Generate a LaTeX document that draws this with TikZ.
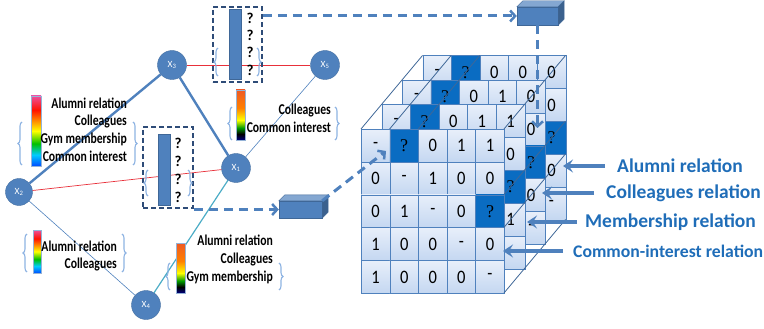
\documentclass[tikz,border=0pt]{standalone}
\usepackage{fontspec}
\setmainfont{Carlito}
\newfontfamily\qfont{Liberation Serif}
\usetikzlibrary{arrows.meta,decorations.pathreplacing,positioning}

\definecolor{nodeblue}{HTML}{4F81BD}
\definecolor{boxline}{HTML}{2E4C78}
\definecolor{bracecol}{HTML}{8DB3E2}
\definecolor{labelblue}{HTML}{1F6DB8}
\definecolor{darkq}{HTML}{0A6CC2}
\definecolor{celltop}{HTML}{E8EFFA}
\definecolor{cellbot}{HTML}{C4D7F1}
\definecolor{edgecyan}{HTML}{4BACC6}
\definecolor{redline}{HTML}{E8303A}
\definecolor{hotpink}{HTML}{EE4F9C}
\definecolor{warmred}{HTML}{EE5A24}

\pgfdeclareverticalshading{rainbow}{100bp}{color(0bp)=(blue!70!cyan); color(25bp)=(blue!70!cyan); color(33bp)=(cyan!80!blue); color(41bp)=(green!75!black); color(50bp)=(yellow); color(58bp)=(orange); color(65bp)=(red!85!orange); color(75bp)=(hotpink); color(100bp)=(hotpink)}
\pgfdeclareverticalshading{warm}{100bp}{color(0bp)=(blue!50!black); color(25bp)=(blue!50!black); color(31bp)=(black); color(37bp)=(green!60!black); color(45bp)=(yellow); color(57bp)=(orange); color(75bp)=(warmred); color(100bp)=(warmred)}

% one 5x5 slice of the relation cube
\newcommand{\cubelayer}[3]{%
  \begin{scope}[shift={#1}]
    \foreach \row [count=\i from 0] in {#3} {
      \foreach \v [count=\j from 0] in \row
        \node[cell] (#2-\i-\j) at (\j*28.6,\i*32.8) {\scalebox{0.87}[1]{\v}};
    }
    \node[cell,darkcell] (#2-qa) at (28.6,0) {?};
    \node[cell,darkcell] (#2-qb) at (114.4,65.6) {?};
  \end{scope}}

\begin{document}
\begin{tikzpicture}[x=1pt,y=-1pt,
    main node/.style={circle,fill=nodeblue,draw=nodeblue!85!black,minimum size=29pt,inner sep=0pt,text=white,font=\fontsize{9.5}{9.5}\selectfont},
    strong/.style={nodeblue,line width=2.4pt},
    weak/.style={nodeblue,line width=0.6pt},
    tie/.style={redline,line width=0.7pt},
    cyanlink/.style={edgecyan,line width=1.2pt},
    dashbox/.style={draw=boxline,dash pattern=on 5pt off 3pt,line width=1.5pt,inner sep=0pt},
    bar/.style={fill=nodeblue,draw=nodeblue!80!black,minimum width=12pt,inner sep=0pt},
    gbar/.style={draw=nodeblue!60,inner sep=0pt},
    qmarks/.style={font=\bfseries\fontsize{15}{17.4}\selectfont,align=center,inner sep=0pt},
    legend/.style={font=\bfseries\fontsize{15}{17.7}\selectfont,align=right,inner sep=0pt,anchor=east,xscale=0.78,transform shape},
    brc/.style={draw=bracecol,line width=1.1pt,decorate,decoration={brace,amplitude=4pt}},
    flow/.style={nodeblue,line width=3pt,dash pattern=on 9pt off 6pt,-{Straight Barb[length=5pt,width=11pt,line width=2.5pt]}},
    box3d/.style={fill=nodeblue,draw=nodeblue!80!black,inner sep=0pt},
    rellabel/.style={text=labelblue,font=\bfseries\fontsize{19.5}{20}\selectfont,anchor=west,inner sep=0pt},
    relarrow/.style={nodeblue,line width=3.5pt,-{Stealth[length=10pt,width=13pt,inset=4pt]}},
    cell/.style={draw=nodeblue,line width=0.6pt,top color=celltop,bottom color=cellbot,minimum width=28.6pt,minimum height=32.8pt,inner sep=0pt,anchor=north west,font=\fontsize{19}{19}\selectfont},
    darkcell/.style={top color=darkq,bottom color=darkq,font=\qfont\fontsize{18}{18}\selectfont},
    cubeline/.style={draw=nodeblue!80!black,line width=0.8pt}]

    \useasboundingbox (0,0) rectangle (764,329);

    % social graph
    \node[main node] (3) at (172,65)  {X\textsubscript{3}};
    \node[main node] (5) at (325,65)  {X\textsubscript{5}};
    \node[main node] (1) at (236,168) {X\textsubscript{1}};
    \node[main node,minimum size=27pt] (2) at (19,192) {X\textsubscript{2}};
    \node[main node] (4) at (146,305) {X\textsubscript{4}};

    \path
    (3) edge[strong] (2)
        edge[strong] (1)
        edge[tie] (5)
    (2) edge[tie] (1)
        edge[weak] (4)
    (1) edge[weak] (5)
        edge[cyanlink] (4);

    % unknown relation vectors
    \node[dashbox,minimum width=49pt,minimum height=75pt] (qa) at (237.5,44.5) {};
    \node[bar,minimum height=70pt] (ba) at (235,44) {};
    \node[qmarks] (qma) at (250,44) {?\\?\\?\\?};
    \draw[brc] (218,76) -- (218,48);
    \draw[brc] (257,48) -- (257,76);

    \node[dashbox,minimum width=50pt,minimum height=81pt] (qb) at (168,167.5) {};
    \node[bar,minimum height=71pt] (bb) at (164,169.5) {};
    \node[qmarks,font=\bfseries\fontsize{15}{18}\selectfont] (qmb) at (178,170) {?\\?\\?\\?};
    \draw[brc] (148,196) -- (148,170);
    \draw[brc] (188,170) -- (188,196);

    % known relation legends
    \node[gbar,shading=rainbow,minimum width=10pt,minimum height=70pt] (g1) at (36,131) {};
    \node[legend] (la) at (127,129.5) {Alumni relation\\Colleagues\\Gym membership\\Common interest};
    \draw[brc] (22,165) -- (22,122);
    \draw[brc] (133,122) -- (133,165);

    \node[gbar,shading=warm,minimum width=9pt,minimum height=50pt] (g2) at (240.5,115) {};
    \node[legend] (lb) at (331,118) {Colleagues\\Common interest};
    \draw[brc] (232,140) -- (232,107);
    \draw[brc] (335,107) -- (335,140);

    \node[gbar,shading=rainbow,minimum width=8pt,minimum height=43pt] (g3) at (37,251.5) {};
    \node[legend] (lc) at (117,256) {Alumni relation\\Colleagues};
    \draw[brc] (27,272) -- (27,234);
    \draw[brc] (122,234) -- (122,272);

    \node[gbar,shading=warm,minimum width=9pt,minimum height=50pt] (g4) at (180.5,268) {};
    \node[legend] (ld) at (273,259.5) {Alumni relation\\Colleagues\\Gym membership};
    \draw[brc] (170,290) -- (170,263);
    \draw[brc] (279,263) -- (279,290);

    % small cuboids
    \node[box3d,minimum width=41pt,minimum height=18pt] (cbA) at (537.5,16) {};
    \node[box3d,minimum width=43pt,minimum height=17pt] (cbB) at (300.5,209.5) {};
    \foreach \b in {cbA,cbB} {
      \fill[nodeblue!70!white,draw=nodeblue!80!black] (\b.north west) -- ++(6,-6) -- ([shift={(6,-6)}]\b.north east) -- (\b.north east) -- cycle;
      \fill[nodeblue!75!black,draw=nodeblue!80!black] (\b.north east) -- ++(6,-6) -- ([shift={(6,-6)}]\b.south east) -- (\b.south east) -- cycle;
    }

    % relation cube, back slice first
    \begin{scope}[shift={(361,129)}]
      \cubelayer{(61.5,-73.5)}{la4}{{-,?,0,0,0},{{},{},{},{},0},{{},{},{},{},?},{{},{},{},{},0},{{},{},{},{},-}}
      \cubelayer{(41,-49)}{la3}{{-,?,0,1,0},{{},{},{},{},0},{{},{},{},{},?},{{},{},{},{},0},{{},{},{},{},-}}
      \cubelayer{(20.5,-24.5)}{la2}{{-,?,0,1,1},{{},{},{},{},0},{{},{},{},{},?},{{},{},{},{},1},{{},{},{},{},-}}
      \cubelayer{(0,0)}{la1}{{-,?,0,1,1},{0,-,1,0,0},{0,1,-,0,?},{1,0,0,-,0},{1,0,0,0,-}}
      \foreach \p in {(0,0),(28.6,0),(57.2,0),(143,0),(143,65.6),(143,98.4),(143,164)}
        \draw[cubeline] \p -- ++(61.5,-73.5);
    \end{scope}

    \coordinate (ta0) at (537.5,128);
    \coordinate (tb0) at (386,151);
    \draw[flow] (qa.east |- cbA.west) -- (cbA.west);
    \draw[flow] (cbA.south) -- (ta0);
    \draw[flow] (qb.south east |- cbB.west) -- (cbB.west);
    \draw[flow] (cbB.north east) -- (tb0);

    % relation labels
    \node[rellabel] (ra) at (617,166) {Alumni relation};
    \node[rellabel] (rb) at (606,193) {Colleagues relation};
    \node[rellabel] (rc) at (585,222) {Membership relation};
    \node[rellabel,font=\bfseries\fontsize{17.7}{18}\selectfont] (rd) at (573,251) {Common-interest relation};
    \coordinate (ta) at (563,166);
    \coordinate (tb) at (542,193);
    \coordinate (tc) at (527,222);
    \coordinate (td) at (503,251);
    \draw[relarrow] ([xshift=-12pt]ra.west) -- (ta);
    \draw[relarrow] ([xshift=-12pt]rb.west) -- (tb);
    \draw[relarrow] ([xshift=-8pt]rc.west) -- (tc);
    \draw[relarrow] ([xshift=-10pt]rd.west) -- (td);
\end{tikzpicture}
\end{document}
